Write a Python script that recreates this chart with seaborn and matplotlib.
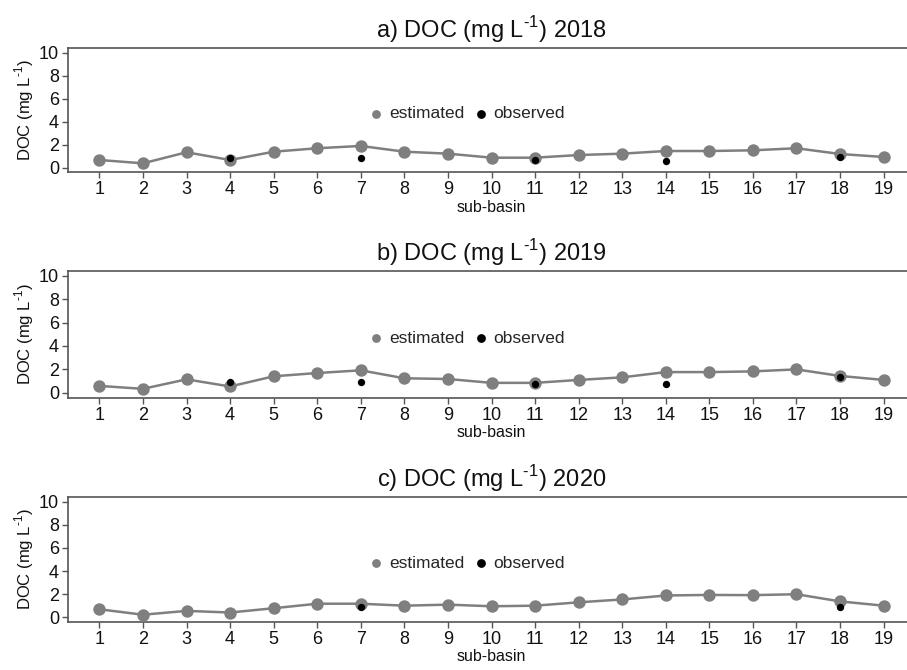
import numpy as np
import pandas as pd
import matplotlib
matplotlib.use("Agg")
import matplotlib.pyplot as plt
import seaborn as sns

sns.set_theme(style="ticks")
plt.rcParams['font.family'] = ['Liberation Sans', 'DejaVu Sans']
plt.rcParams['mathtext.fontset'] = 'custom'
plt.rcParams['mathtext.rm'] = 'Liberation Sans'

sub_basin = list(range(1, 20))

est_2018 = [0.67, 0.38, 1.34, 0.67, 1.39, 1.69, 1.89, 1.39, 1.22, 0.87,
            0.87, 1.10, 1.22, 1.45, 1.45, 1.51, 1.69, 1.19, 0.93]
est_2019 = [0.59, 0.34, 1.15, 0.54, 1.41, 1.69, 1.92, 1.24, 1.18, 0.85,
            0.85, 1.10, 1.32, 1.77, 1.77, 1.83, 2.00, 1.44, 1.10]
est_2020 = [0.70, 0.23, 0.56, 0.42, 0.79, 1.18, 1.18, 1.01, 1.10, 0.96,
            1.01, 1.30, 1.55, 1.89, 1.94, 1.92, 2.00, 1.38, 1.01]

obs_basin_2018 = [4, 7, 11, 14, 18]
obs_2018 = [0.82, 0.82, 0.64, 0.55, 0.93]
obs_basin_2019 = [4, 7, 11, 14, 18]
obs_2019 = [0.93, 0.93, 0.79, 0.79, 1.32]
obs_basin_2020 = [7, 18]
obs_2020 = [0.93, 0.90]

unit = "(mg L$^{\\text{-1}}$)"
titles = ["a) DOC " + unit + " 2018",
          "b) DOC " + unit + " 2019",
          "c) DOC " + unit + " 2020"]

panels = [(est_2018, obs_basin_2018, obs_2018),
          (est_2019, obs_basin_2019, obs_2019),
          (est_2020, obs_basin_2020, obs_2020)]

W, H = 907, 670
fig = plt.figure(figsize=(W / 100, H / 100), dpi=100)

# (top, bottom) in pixels for each panel
boxes = [(48, 172.3), (271, 397.5), (497, 622)]
left_px, right_px = 68, 915

grey = "#7f7f7f"
spine_col = "#555555"

for (est, ob_x, ob_y), title, (tp, bp) in zip(panels, titles, boxes):
    ax = fig.add_axes([left_px / W, 1 - bp / H, (right_px - left_px) / W, (bp - tp) / H])
    df_est = pd.DataFrame({"sub_basin": sub_basin, "DOC": est})
    df_obs = pd.DataFrame({"sub_basin": ob_x, "DOC": ob_y})
    sns.lineplot(data=df_est, x="sub_basin", y="DOC", ax=ax, color=grey,
                 linewidth=1.8, legend=False, zorder=2)
    sns.scatterplot(data=df_est, x="sub_basin", y="DOC", ax=ax, color=grey,
                    s=80, linewidth=0, label="estimated", zorder=3, legend=False)
    sns.scatterplot(data=df_obs, x="sub_basin", y="DOC", ax=ax, color="black",
                    s=28, linewidth=0, label="observed", zorder=4, legend=False)
    ax.set_xlim(0.28, 19.72)
    ax.set_ylim(-0.4, 10.4)
    ax.set_xticks(sub_basin)
    ax.set_xticklabels([str(v) for v in sub_basin])
    ax.set_yticks([0, 2, 4, 6, 8, 10])
    ax.tick_params(axis="both", labelsize=13, length=4.5, width=1,
                   color=spine_col, pad=2, labelcolor="#111111")
    for s in ["left", "bottom", "top"]:
        ax.spines[s].set_color(spine_col)
        ax.spines[s].set_linewidth(1.2)
    ax.spines["right"].set_visible(False)
    ax.set_xlabel("sub-basin", fontsize=11.5, labelpad=1, color="#111111")
    ax.set_ylabel("DOC " + unit, fontsize=12, labelpad=2, color="#111111")
    ax.set_title(title, fontsize=17, pad=7, color="#111111")
    h, l = ax.get_legend_handles_labels()
    leg = ax.legend(h[:2], l[:2], loc="center", bbox_to_anchor=(0.47, 0.47),
                    ncol=2, frameon=False, fontsize=12.5, handletextpad=0.25,
                    columnspacing=0.45, handlelength=1.0)
    for hd in leg.legend_handles:
        hd.set_sizes([40])

fig.savefig("out.png", dpi=100)
